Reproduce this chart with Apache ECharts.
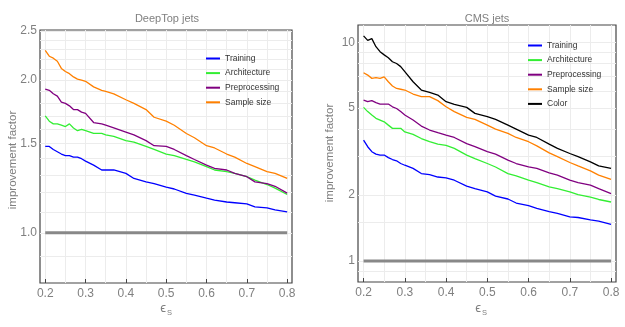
<!DOCTYPE html>
<html>
<head>
<meta charset="utf-8">
<script src="https://cdn.jsdelivr.net/npm/echarts@6/dist/echarts.min.js"></script>
<style>
  html, body { margin: 0; background: #fff; }
  #chart { width: 625px; height: 327px; }
</style>
</head>
<body>
<div id="chart"></div>
<script>
// signal efficiency samples
const epsLeft = [0.2, 0.21, 0.22, 0.23, 0.24, 0.25, 0.26, 0.27, 0.28, 0.29, 0.3, 0.32, 0.34, 0.35, 0.37, 0.4, 0.42, 0.45, 0.47, 0.5, 0.52, 0.55, 0.57, 0.6, 0.62, 0.65, 0.67, 0.7, 0.72, 0.75, 0.77, 0.8];
const epsRight = [0.2, 0.21, 0.22, 0.23, 0.24, 0.25, 0.26, 0.27, 0.28, 0.29, 0.3, 0.32, 0.34, 0.36, 0.38, 0.4, 0.42, 0.45, 0.47, 0.5, 0.52, 0.55, 0.57, 0.6, 0.62, 0.65, 0.67, 0.7, 0.72, 0.75, 0.77, 0.8];

// DeepTop jets
const topTraining = [1.48, 1.48, 1.46, 1.445, 1.43, 1.42, 1.42, 1.41, 1.41, 1.40, 1.385, 1.36, 1.33, 1.33, 1.33, 1.31, 1.28, 1.26, 1.25, 1.23, 1.22, 1.196, 1.186, 1.17, 1.16, 1.15, 1.146, 1.14, 1.125, 1.12, 1.11, 1.10];
const topArchitecture = [1.70, 1.66, 1.64, 1.64, 1.63, 1.62, 1.64, 1.61, 1.59, 1.60, 1.59, 1.57, 1.57, 1.56, 1.55, 1.52, 1.51, 1.48, 1.46, 1.43, 1.42, 1.395, 1.38, 1.35, 1.33, 1.32, 1.31, 1.29, 1.27, 1.245, 1.225, 1.19];
const topPreprocessing = [1.92, 1.91, 1.88, 1.86, 1.81, 1.80, 1.78, 1.75, 1.75, 1.73, 1.72, 1.65, 1.64, 1.63, 1.61, 1.58, 1.56, 1.52, 1.485, 1.48, 1.46, 1.42, 1.395, 1.36, 1.34, 1.33, 1.31, 1.29, 1.26, 1.25, 1.235, 1.197];
const topSampleSize = [2.29, 2.23, 2.21, 2.18, 2.11, 2.08, 2.06, 2.03, 2.01, 2.00, 1.99, 1.94, 1.91, 1.90, 1.88, 1.83, 1.80, 1.75, 1.69, 1.66, 1.63, 1.57, 1.54, 1.485, 1.47, 1.43, 1.41, 1.37, 1.35, 1.32, 1.31, 1.28];

// CMS jets
const cmsTraining = [3.57, 3.33, 3.16, 3.08, 3.05, 3.05, 2.97, 2.91, 2.87, 2.79, 2.74, 2.65, 2.51, 2.48, 2.42, 2.40, 2.34, 2.20, 2.14, 2.07, 1.98, 1.92, 1.84, 1.79, 1.74, 1.68, 1.65, 1.59, 1.58, 1.54, 1.52, 1.47];
const cmsArchitecture = [5.04, 4.82, 4.65, 4.49, 4.41, 4.33, 4.18, 4.04, 4.04, 4.04, 3.89, 3.79, 3.63, 3.51, 3.42, 3.38, 3.27, 3.05, 2.94, 2.79, 2.69, 2.51, 2.45, 2.34, 2.28, 2.18, 2.14, 2.07, 2.01, 1.96, 1.91, 1.86];
const cmsPreprocessing = [5.44, 5.35, 5.41, 5.30, 5.22, 5.22, 5.22, 5.07, 4.98, 4.82, 4.65, 4.41, 4.14, 3.97, 3.86, 3.76, 3.67, 3.44, 3.33, 3.16, 3.08, 2.89, 2.79, 2.69, 2.65, 2.53, 2.47, 2.34, 2.28, 2.22, 2.14, 2.03];
const cmsSampleSize = [7.26, 7.08, 6.84, 6.90, 6.84, 6.95, 6.60, 6.31, 6.15, 6.10, 6.05, 5.80, 5.64, 5.64, 5.41, 5.07, 4.82, 4.54, 4.44, 4.18, 4.01, 3.83, 3.67, 3.51, 3.36, 3.12, 3.00, 2.82, 2.72, 2.58, 2.47, 2.36];
const cmsColor = [10.7, 10.2, 10.4, 9.55, 9.06, 8.76, 8.50, 8.15, 8.00, 7.74, 7.34, 6.60, 6.05, 5.90, 5.74, 5.35, 5.20, 5.04, 4.73, 4.57, 4.44, 4.18, 4.01, 3.76, 3.67, 3.42, 3.27, 3.10, 3.00, 2.84, 2.72, 2.65];

// baseline (improvement factor 1)
const baseEps = [0.2, 0.8];
const baseVal = [1, 1];

// ticks and grid lines
const xTicks = [0.2, 0.3, 0.4, 0.5, 0.6, 0.7, 0.8];
const xGrid = [0.2, 0.25, 0.3, 0.35, 0.4, 0.45, 0.5, 0.55, 0.6, 0.65, 0.7, 0.75, 0.8];
const yTicksLeft = [1.0, 1.5, 2.0, 2.5];
const yGridLeft = [0.9, 1.0, 1.1, 1.2, 1.3, 1.4, 1.5, 1.6, 1.7, 1.8, 1.9, 2.0, 2.1, 2.2, 2.3, 2.4, 2.5];
const yTicksRight = [1, 2, 5, 10];
const yGridRight = [0.9, 1, 1.5, 2, 3, 4, 5, 6, 7, 8, 9, 10];

const seriesNames = ['Training', 'Architecture', 'Preprocessing', 'Sample size', 'Color'];
const seriesColors = {
    'Training': '#0000ff',
    'Architecture': '#33ee33',
    'Preprocessing': '#800080',
    'Sample size': '#ff8000',
    'Color': '#000000'
};

const font = 'Liberation Sans';
const gray = '#808080';

function curve(name, xs, ys, idx) {
    return {
        name: name,
        type: 'line',
        xAxisIndex: idx,
        yAxisIndex: idx,
        data: xs.map((x, i) => [x, ys[i]]),
        showSymbol: false,
        symbol: 'none',
        z: 3,
        lineStyle: { width: 1.3, color: seriesColors[name] },
        itemStyle: { color: seriesColors[name] }
    };
}

// gray baseline, carrying the frame grid lines and y tick labels as markLines
function baseline(idx, yGrid, yTicks, fmt) {
    const lines = [];
    xGrid.forEach(v => lines.push({ xAxis: v, label: { show: false } }));
    yGrid.forEach(v => {
        const major = yTicks.indexOf(v) >= 0;
        lines.push({
            yAxis: v,
            label: {
                show: major,
                position: 'start',
                distance: 3,
                formatter: () => fmt(v),
                color: gray,
                fontSize: 12,
                fontFamily: font
            }
        });
    });
    return {
        name: 'base',
        type: 'line',
        xAxisIndex: idx,
        yAxisIndex: idx,
        data: baseEps.map((x, i) => [x, baseVal[i]]),
        showSymbol: false,
        symbol: 'none',
        z: 2,
        lineStyle: { width: 3, color: '#888888' },
        markLine: {
            silent: true,
            z: 0,
            symbol: 'none',
            animation: false,
            lineStyle: { type: 'solid', color: '#ececec', width: 1 },
            emphasis: { disabled: true },
            data: lines
        }
    };
}

function xAxisFor(idx, min, max) {
    return {
        gridIndex: idx,
        type: 'value',
        min: min,
        max: max,
        axisLine: { show: false },
        splitLine: { show: false },
        axisTick: { show: true, inside: true, length: 4, customValues: xTicks, lineStyle: { color: '#444' } },
        axisLabel: {
            customValues: xTicks,
            formatter: v => v.toFixed(1),
            color: gray,
            fontSize: 12,
            fontFamily: font,
            margin: 5
        }
    };
}

function yAxisFor(idx, min, max) {
    return {
        gridIndex: idx,
        type: 'log',
        logBase: 10,
        min: min,
        max: max,
        axisLine: { show: false },
        axisTick: { show: false },
        axisLabel: { show: false },
        splitLine: { show: false },
        minorSplitLine: { show: false }
    };
}

function legendFor(names, left, top) {
    return {
        data: names,
        orient: 'vertical',
        left: left,
        top: top,
        padding: 0,
        icon: 'rect',
        itemWidth: 14,
        itemHeight: 2,
        itemGap: 4.6,
        itemStyle: { borderWidth: 0 },
        textStyle: { fontSize: 8.5, lineHeight: 10, color: '#333', fontFamily: font }
    };
}

function label(text, x, y, size, rot) {
    return {
        type: 'text',
        x: x,
        y: y,
        rotation: rot || 0,
        style: {
            text: text,
            fill: gray,
            font: size + 'px "' + font + '"',
            textAlign: 'center',
            textVerticalAlign: 'middle'
        }
    };
}

const chart = echarts.init(document.getElementById('chart'));

const option = {
    animation: false,
    backgroundColor: '#fff',
    grid: [
        { left: 40, top: 30, width: 252, height: 253, show: true, borderColor: '#444', borderWidth: 1.2, backgroundColor: 'transparent' },
        { left: 358, top: 25, width: 258, height: 257, show: true, borderColor: '#444', borderWidth: 1.2, backgroundColor: 'transparent' }
    ],
    xAxis: [xAxisFor(0, 0.187, 0.812), xAxisFor(1, 0.1865, 0.812)],
    yAxis: [yAxisFor(0, 0.796, 2.512), yAxisFor(1, 0.801, 12.0)],
    legend: [
        legendFor(seriesNames.slice(0, 4), 206, 53.5),
        legendFor(seriesNames, 528, 40.5)
    ],
    graphic: [
        label('DeepTop jets', 167, 19, 11),
        label('CMS jets', 487, 19, 11),
        label('improvement factor', 12.7, 160, 11.5, Math.PI / 2),
        label('improvement factor', 330, 153, 11.5, Math.PI / 2),
        label('\u03f5', 163, 308, 13),
        label('S', 169.5, 312.5, 7.5),
        label('\u03f5', 478, 308, 13),
        label('S', 484.5, 312.5, 7.5)
    ],
    series: [
        baseline(0, yGridLeft, yTicksLeft, v => v.toFixed(1)),
        curve('Training', epsLeft, topTraining, 0),
        curve('Architecture', epsLeft, topArchitecture, 0),
        curve('Preprocessing', epsLeft, topPreprocessing, 0),
        curve('Sample size', epsLeft, topSampleSize, 0),
        baseline(1, yGridRight, yTicksRight, v => String(v)),
        curve('Training', epsRight, cmsTraining, 1),
        curve('Architecture', epsRight, cmsArchitecture, 1),
        curve('Preprocessing', epsRight, cmsPreprocessing, 1),
        curve('Sample size', epsRight, cmsSampleSize, 1),
        curve('Color', epsRight, cmsColor, 1)
    ]
};

chart.setOption(option);
</script>
</body>
</html>
